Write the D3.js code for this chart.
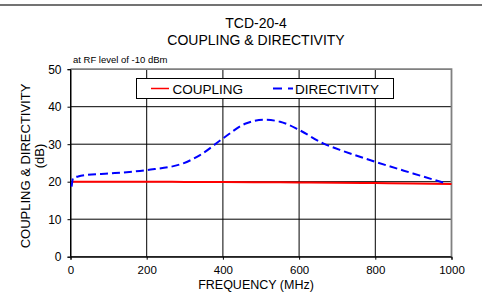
<!DOCTYPE html>
<html><head><meta charset="utf-8">
<script src="https://cdn.jsdelivr.net/npm/d3@7"></script>
<style>body{margin:0;background:#fff}svg{display:block;font-family:"Liberation Sans",Arial,sans-serif}</style>
</head><body>
<script>
const title1 = "TCD-20-4";
const title2 = "COUPLING & DIRECTIVITY";
const note = "at RF level of -10 dBm";
const xTicks = [0, 200, 400, 600, 800, 1000];
const yTicks = [0, 10, 20, 30, 40, 50];
const couplingFreq = [5, 50, 100, 200, 300, 400, 500, 600, 700, 800, 900, 1000];
const couplingVal  = [20.0, 20.0, 20.0, 20.0, 19.95, 19.9, 19.85, 19.8, 19.75, 19.65, 19.55, 19.4];
const dirFreq = [3, 7, 20, 42, 104, 200, 296, 340, 401, 462, 510, 550, 600, 663, 707, 800, 899, 987];
const dirVal  = [18.7, 21.0, 21.4, 21.8, 22.2, 23.1, 24.9, 27.1, 31.6, 35.6, 36.5, 36.0, 33.8, 30.2, 28.5, 25.3, 22.2, 19.5];

const W = 482, H = 296;
const FONT = '"Liberation Sans",Arial,sans-serif';
const svg = d3.select("body").append("svg").attr("width", W).attr("height", H);
const m = {l: 70.5, r: 451.5, t: 69.2, b: 256.7};
const x = d3.scaleLinear().domain([0, 1000]).range([m.l, m.r]);
const y = d3.scaleLinear().domain([0, 50]).range([m.b, m.t]);

svg.append("line").attr("x1", 0).attr("x2", W).attr("y1", 5).attr("y2", 5)
  .attr("stroke", "#444").attr("stroke-width", 1.5);

svg.append("text").attr("x", 256).attr("y", 28).attr("text-anchor", "middle").attr("font-size", 14).text(title1);
svg.append("text").attr("x", 256).attr("y", 45).attr("text-anchor", "middle").attr("font-size", 14).text(title2);
svg.append("text").attr("x", 73).attr("y", 63).attr("font-size", 9.5).text(note);

// grid
svg.append("g").selectAll("line").data(yTicks.slice(0, -1)).join("line")
  .attr("x1", m.l).attr("x2", m.r).attr("y1", d => y(d)).attr("y2", d => y(d))
  .attr("stroke", "#000").attr("stroke-width", 1);
svg.append("g").selectAll("line").data(xTicks.slice(0, -1)).join("line")
  .attr("y1", m.t).attr("y2", m.b).attr("x1", d => x(d)).attr("x2", d => x(d))
  .attr("stroke", "#000").attr("stroke-width", 1);
// grey frame top/right
svg.append("path").attr("d", `M${m.l},${y(50)}H${m.r}V${m.b}`)
  .attr("fill", "none").attr("stroke", "#808080").attr("stroke-width", 1.8);

const xAxis = svg.append("g").attr("transform", `translate(0,${m.b})`)
  .call(d3.axisBottom(x).tickValues(xTicks).tickFormat(d3.format("d")).tickSize(3).tickPadding(6));
const yAxis = svg.append("g").attr("transform", `translate(${m.l},0)`)
  .call(d3.axisLeft(y).tickValues(yTicks).tickFormat(d3.format("d")).tickSize(3).tickPadding(6));
[xAxis, yAxis].forEach(a => {
  a.select(".domain").attr("stroke", "#000");
  a.selectAll("text").attr("font-size", 12).attr("font-family", FONT).attr("fill", "#000");
  a.selectAll(".tick line").attr("stroke", "#000");
});
xAxis.selectAll("text").attr("font-size", 11.5);

svg.append("text").attr("x", 256).attr("y", 289).attr("text-anchor", "middle").attr("font-size", 12.5).text("FREQUENCY (MHz)");
svg.append("text").attr("transform", "translate(30,166) rotate(-90)").attr("text-anchor", "middle").attr("font-size", 13).text("COUPLING & DIRECTIVITY");
svg.append("text").attr("transform", "translate(43.5,156) rotate(-90)").attr("text-anchor", "middle").attr("font-size", 13).text("(dB)");

const line = d3.line().curve(d3.curveMonotoneX);
svg.append("path").attr("d", line(couplingFreq.map((f, i) => [x(f), y(couplingVal[i])])))
  .attr("fill", "none").attr("stroke", "#ff0000").attr("stroke-width", 2);
svg.append("path").attr("d", line(dirFreq.map((f, i) => [x(f), y(dirVal[i])])))
  .attr("fill", "none").attr("stroke", "#0000ff").attr("stroke-width", 2).attr("stroke-dasharray", "8,4");

// legend
const lg = svg.append("g");
lg.append("rect").attr("x", 136.5).attr("y", 78.5).attr("width", 257).attr("height", 20)
  .attr("fill", "#fff").attr("stroke", "#000").attr("stroke-width", 1);
lg.append("line").attr("x1", 151).attr("x2", 169).attr("y1", 88.5).attr("y2", 88.5).attr("stroke", "#ff0000").attr("stroke-width", 1.5);
lg.append("text").attr("x", 172.5).attr("y", 93.5).attr("font-size", 13.5).text("COUPLING");
lg.append("line").attr("x1", 273).attr("x2", 293).attr("y1", 88.5).attr("y2", 88.5).attr("stroke", "#0000ff").attr("stroke-width", 2).attr("stroke-dasharray", "9,6");
lg.append("text").attr("x", 295).attr("y", 93.5).attr("font-size", 13.5).text("DIRECTIVITY");
</script>
</body></html>
